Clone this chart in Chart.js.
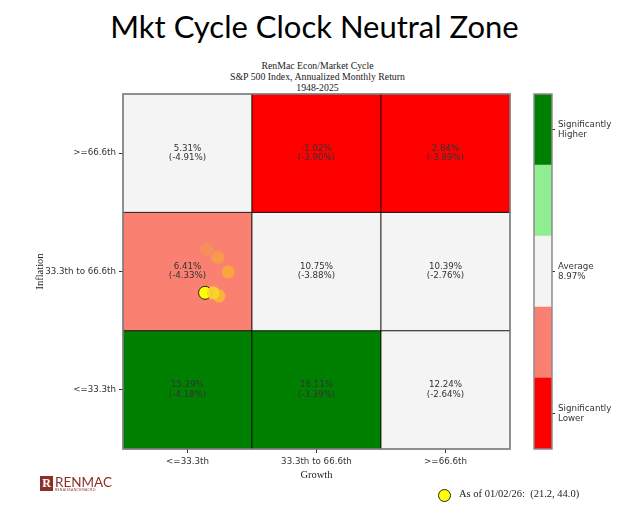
<!DOCTYPE html>
<html>
<head>
<meta charset="utf-8">
<script src="https://cdn.jsdelivr.net/npm/chart.js@4.4.1/dist/chart.umd.min.js"></script>
<style>
  body { margin: 0; background: #fff; }
  #page { position: relative; width: 617px; height: 506px; overflow: hidden; }
  canvas { position: absolute; top: 0; }
  .txt { position: absolute; white-space: nowrap; }
  #title { left: 0; width: 629px; top: 11px; text-align: center; font-family: Lato, sans-serif; font-size: 31px; line-height: 31px; color: #000; }
  #sub { left: 0; width: 635px; top: 61px; text-align: center; font-family: "Liberation Serif", serif; font-size: 9.8px; line-height: 10.8px; color: #222; }
  #logoBox { position: absolute; left: 40px; top: 476px; width: 13px; height: 15px; background: #8c2f28; color: #fff; font: bold 12px "Liberation Serif", serif; text-align: center; line-height: 15px; }
  #logoTxt { left: 55px; top: 474px; font-family: Lato, sans-serif; font-size: 13.5px; color: #8c2f28; }
  #logoSub { left: 55px; top: 488px; font-family: Lato, sans-serif; font-size: 3.4px; color: #8c2f28; letter-spacing: 0.35px; }
  #legDot { position: absolute; left: 438px; top: 489px; width: 13px; height: 13px; border-radius: 50%; background: #ffff00; border: 1px solid #222; box-sizing: border-box; }
  #legTxt { left: 459px; top: 488px; font-family: "Liberation Serif", serif; font-size: 10.5px; color: #222; }
</style>
</head>
<body>
<div id="page">
  <div id="title" class="txt">Mkt Cycle Clock Neutral Zone</div>
  <div id="sub" class="txt">RenMac Econ/Market Cycle<br>S&amp;P 500 Index, Annualized Monthly Return<br>1948-2025</div>
  <canvas id="clockChart" width="617" height="506" style="left:0"></canvas>
  <canvas id="barChart" width="97" height="506" style="left:520px"></canvas>
  <div id="logoBox">R</div>
  <div id="logoTxt" class="txt">RENMAC</div>
  <div id="logoSub" class="txt">RENAISSANCEMACRO</div>
  <div id="legDot"></div>
  <div id="legTxt" class="txt">As of 01/02/26:&nbsp; (21.2, 44.0)</div>
</div>
<script>
//data
var bandLabels = ["<=33.3th", "33.3th to 66.6th", ">=66.6th"];
var bandEdges = [0, 100 / 3, 200 / 3, 100];
// rows = inflation band (low -> high), cols = growth band (low -> high)
var cellReturns = [
  [15.29, 16.11, 12.24],
  [6.41, 10.75, 10.39],
  [5.31, -1.02, 2.84]
];
var cellDrawdowns = [
  [-4.18, -3.39, -2.64],
  [-4.33, -3.88, -2.76],
  [-4.91, -3.90, -3.89]
];
var cellZones = [
  [4, 4, 2],
  [1, 2, 2],
  [2, 0, 0]
];
var zoneColors = ["#ff0000", "#fa8072", "#f4f4f4", "#90ee90", "#008000"];
var zoneTicks = [0.5, 2.5, 4.5];
var zoneTickLabels = [["Significantly", "Lower"], ["Average", "8.97%"], ["Significantly", "Higher"]];

var trailGrowth = [21.6, 24.5, 27.2, 24.8, 23.3];
var trailInflation = [56.3, 54.0, 49.9, 43.1, 44.0];
var trailColors = [
  "rgba(243,150,85,0.75)",
  "rgba(247,160,65,0.8)",
  "rgba(249,172,52,0.85)",
  "rgba(248,188,45,0.85)",
  "rgba(252,214,40,0.9)"
];
var currentGrowth = [21.2];
var currentInflation = [44.0];

var tickFont = { family: "DejaVu Sans", size: 8.7 };
var serifFont = { family: "Liberation Serif", size: 10.5 };

function fmt(v) {
  return v.toFixed(2) + "%";
}

//cells + frame
var cellPlugin = {
  id: "cells",
  beforeDatasetsDraw: function (chart) {
    var ctx = chart.ctx;
    var xs = chart.scales.x;
    var ys = chart.scales.y;
    ctx.save();
    for (var r = 0; r < 3; r++) {
      for (var c = 0; c < 3; c++) {
        var x0 = xs.getPixelForValue(bandEdges[c]);
        var x1 = xs.getPixelForValue(bandEdges[c + 1]);
        var y0 = ys.getPixelForValue(bandEdges[r + 1]);
        var y1 = ys.getPixelForValue(bandEdges[r]);
        ctx.fillStyle = zoneColors[cellZones[r][c]];
        ctx.fillRect(x0, y0, x1 - x0, y1 - y0);
        ctx.strokeStyle = "rgba(0,0,0,0.75)";
        ctx.lineWidth = 1;
        ctx.strokeRect(x0, y0, x1 - x0, y1 - y0);
        ctx.fillStyle = "#333";
        ctx.font = tickFont.size + "px " + tickFont.family;
        ctx.textAlign = "center";
        ctx.textBaseline = "middle";
        var cx = (x0 + x1) / 2;
        var cy = (y0 + y1) / 2;
        ctx.fillText(fmt(cellReturns[r][c]), cx, cy - 4.7);
        ctx.fillText("(" + fmt(cellDrawdowns[r][c]) + ")", cx, cy + 4.7);
      }
    }
    var a = chart.chartArea;
    ctx.strokeStyle = "#8a8a8a";
    ctx.lineWidth = 1.5;
    ctx.strokeRect(a.left, a.top, a.right - a.left, a.bottom - a.top);
    ctx.restore();
  }
};

var framePlugin = {
  id: "frame",
  afterDatasetsDraw: function (chart) {
    var a = chart.chartArea;
    var ctx = chart.ctx;
    ctx.save();
    ctx.strokeStyle = "#8a8a8a";
    ctx.lineWidth = 1.5;
    ctx.strokeRect(a.left, a.top, a.right - a.left, a.bottom - a.top);
    ctx.restore();
  }
};

function centerTicks(scale) {
  scale.ticks = bandLabels.map(function (l, i) {
    return { value: (bandEdges[i] + bandEdges[i + 1]) / 2 };
  });
}

//clock
var ctxC = document.getElementById("clockChart").getContext("2d");
var clockChart = new Chart(ctxC, {
  type: "scatter",
  data: {
    datasets: [
      {
        label: "trail",
        data: trailGrowth.map(function (g, i) {
          return { x: g, y: trailInflation[i] };
        }),
        backgroundColor: trailColors,
        borderWidth: 0,
        pointRadius: 6.5
      },
      {
        label: "current",
        data: currentGrowth.map(function (g, i) {
          return { x: g, y: currentInflation[i] };
        }),
        backgroundColor: "#ffff00",
        borderColor: "#222",
        borderWidth: 1,
        pointRadius: 6.5
      }
    ]
  },
  options: {
    responsive: false,
    animation: false,
    layout: { padding: { top: 94, right: 107, bottom: 22, left: 30 } },
    plugins: { legend: { display: false }, tooltip: { enabled: false } },
    scales: {
      x: {
        type: "linear",
        min: 0,
        max: 100,
        afterBuildTicks: centerTicks,
        afterFit: function (s) { s.height = 35; },
        ticks: {
          font: tickFont,
          color: "#333",
          padding: 3.5,
          maxRotation: 0,
          callback: function (v, i) { return bandLabels[i]; }
        },
        grid: { drawOnChartArea: false, tickLength: 4, color: "#333" },
        border: { display: false },
        title: { display: true, text: "Growth", font: serifFont, color: "#222", padding: { top: 0, bottom: 2 } }
      },
      y: {
        type: "linear",
        min: 0,
        max: 100,
        afterBuildTicks: centerTicks,
        afterFit: function (s) { s.width = 93; },
        ticks: {
          font: tickFont,
          color: "#333",
          padding: 3,
          callback: function (v, i) { return bandLabels[i]; }
        },
        grid: { drawOnChartArea: false, tickLength: 4, color: "#333" },
        border: { display: false },
        title: { display: true, text: "Inflation", font: serifFont, color: "#222", padding: { top: 4, bottom: 0 } }
      }
    }
  },
  plugins: [cellPlugin]
});

//colour bar
var ctxB = document.getElementById("barChart").getContext("2d");
var zoneBar = new Chart(ctxB, {
  type: "bar",
  data: {
    labels: [""],
    datasets: zoneColors.map(function (col) {
      return { data: [1], backgroundColor: col, borderWidth: 0, barPercentage: 1, categoryPercentage: 1 };
    })
  },
  options: {
    responsive: false,
    animation: false,
    layout: { padding: { top: 94, right: 0, bottom: 57, left: 14 } },
    plugins: { legend: { display: false }, tooltip: { enabled: false } },
    scales: {
      x: { stacked: true, display: false },
      y: {
        stacked: true,
        position: "right",
        min: 0,
        max: 5,
        afterBuildTicks: function (s) {
          s.ticks = zoneTicks.map(function (v) { return { value: v }; });
        },
        afterFit: function (s) { s.width = 65; },
        ticks: {
          font: tickFont,
          color: "#333",
          padding: 3,
          callback: function (v, i) { return zoneTickLabels[i]; }
        },
        grid: { drawOnChartArea: false, tickLength: 3, color: "#333" },
        border: { display: false }
      }
    }
  },
  plugins: [framePlugin]
});
</script>
</body>
</html>
